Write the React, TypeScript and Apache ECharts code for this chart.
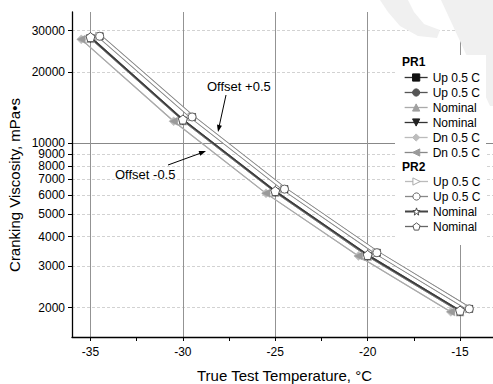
import React, { useEffect, useRef } from "react";
import * as echarts from "echarts";

const FONT = "'Liberation Sans', Arial, Helvetica, sans-serif";

// ---- data ----
const nominalTemps = [-35, -30, -25, -20, -15];
const upTemps = [-34.5, -29.5, -24.5, -19.5, -14.5];
const dnTemps = [-35.5, -30.5, -25.5, -20.5, -15.5];

const pr1Up = [28400, 12900, 6370, 3420, 1975];
const pr1Nominal = [27740, 12400, 6160, 3296, 1914];
const pr1Dn = [27550, 12370, 6110, 3313, 1918];
const pr2Up = [28400, 12900, 6370, 3420, 1975];
const pr2Nominal = [28150, 12580, 6250, 3345, 1942];

const yTicks = [2000, 3000, 4000, 5000, 6000, 7000, 8000, 9000, 10000, 20000, 30000];
const yRange = [1500, 36000];
const yReference = [10000];
const xTicks = [-35, -30, -25, -20, -15];
const xMinorTicks = [-32.5, -27.5, -22.5, -17.5];
const xRange = [-36, -13];

const groupTitles = ["PR1", "PR2"];
const seriesLabels = [
  "Up 0.5 C", "Up 0.5 C", "Nominal", "Nominal", "Dn 0.5 C", "Dn 0.5 C",
  "Up 0.5 C", "Up 0.5 C", "Nominal", "Nominal",
];
const seriesGroup = [0, 0, 0, 0, 0, 0, 1, 1, 1, 1];
const seriesTemps = [upTemps, upTemps, nominalTemps, nominalTemps, dnTemps, dnTemps, upTemps, upTemps, nominalTemps, nominalTemps];
const seriesValues = [pr1Up, pr1Up, pr1Nominal, pr1Nominal, pr1Dn, pr1Dn, pr2Up, pr2Up, pr2Nominal, pr2Nominal];

// ---- styles ----
const STAR = "path://M0,-1L0.235,-0.324L0.951,-0.309L0.38,0.124L0.588,0.809L0,0.4L-0.588,0.809L-0.38,0.124L-0.951,-0.309L-0.235,-0.324Z";
const PENTAGON = "path://M0,-1L0.951,-0.309L0.588,0.809L-0.588,0.809L-0.951,-0.309Z";

const seriesStyles = [
  { symbol: "rect", size: 7, rotate: 0, fill: "#111", border: "#111", bw: 0.5, line: "#8e8e8e", width: 4.2, legendLine: "#333", legendWidth: 1.3 },
  { symbol: "circle", size: 7, rotate: 0, fill: "#555", border: "#555", bw: 0.5, line: "#8e8e8e", width: 4.2, legendLine: "#555", legendWidth: 1.3 },
  { symbol: "triangle", size: 8, rotate: 0, fill: "#a0a0a0", border: "#a0a0a0", bw: 0.5, line: "#a8a8a8", width: 1, legendLine: "#aaa", legendWidth: 1.3 },
  { symbol: "triangle", size: 8, rotate: 180, fill: "#222", border: "#222", bw: 0.5, line: "#777", width: 1, legendLine: "#333", legendWidth: 1.3 },
  { symbol: "diamond", size: 9, rotate: 0, fill: "#bdbdbd", border: "#bdbdbd", bw: 0.5, line: "#b5b5b5", width: 1.2, legendLine: "#bbb", legendWidth: 1.3 },
  { symbol: "triangle", size: 8, rotate: 90, fill: "#9a9a9a", border: "#9a9a9a", bw: 0.5, line: "#aaa", width: 1.1, legendLine: "#888", legendWidth: 1.3 },
  { symbol: "triangle", size: 8, rotate: -90, fill: "#fff", border: "#aaa", bw: 1, line: "#fff", width: 2.2, legendLine: "#bbb", legendWidth: 1.3 },
  { symbol: "circle", size: 8, rotate: 0, fill: "#fff", border: "#666", bw: 1, line: "#fff", width: 2.2, legendLine: "#888", legendWidth: 1.3 },
  { symbol: STAR, size: 9, rotate: 0, fill: "#fff", border: "#444", bw: 1, line: "#444", width: 1.5, legendLine: "#444", legendWidth: 2 },
  { symbol: PENTAGON, size: 9, rotate: 0, fill: "#fff", border: "#555", bw: 1, line: "#3c3c3c", width: 1.5, legendLine: "#666", legendWidth: 1.3 },
];

const ids = seriesLabels.map((_, i) => "s" + i);
const log = (v: number) => Math.log10(v);

function buildOption(): any {
  const series = ids.map((id, i) => {
    const st = seriesStyles[i];
    return {
      type: "line",
      name: id,
      xAxisIndex: 0,
      yAxisIndex: 0,
      data: seriesTemps[i].map((t, k) => [t, log(seriesValues[i][k])]),
      symbol: st.symbol,
      symbolSize: st.size,
      symbolRotate: st.rotate,
      showSymbol: true,
      showAllSymbol: true,
      lineStyle: { color: st.line, width: st.width },
      itemStyle: { color: st.fill, borderColor: st.border, borderWidth: st.bw },
      emphasis: { disabled: true },
      silent: true,
      z: 2,
    };
  });

  const legendFor = (g: number, top: number) => ({
    data: ids
      .map((id, i) => ({ id, i }))
      .filter((d) => seriesGroup[d.i] === g)
      .map((d) => ({
        name: d.id,
        lineStyle: { color: seriesStyles[d.i].legendLine, width: seriesStyles[d.i].legendWidth },
      })),
    orient: "vertical",
    left: 404,
    top,
    itemWidth: 23,
    itemHeight: 9,
    itemGap: 0,
    padding: 0,
    selectedMode: false,
    formatter: (name: string) => seriesLabels[ids.indexOf(name)],
    textStyle: { fontSize: 12, lineHeight: 15, color: "#000", fontFamily: FONT },
    itemStyle: { borderWidth: 1 },
  });

  const yTickLogs = yTicks.map(log);
  const yRefLogs = yReference.map(log);

  return {
    animation: false,
    backgroundColor: "#fff",
    textStyle: { fontFamily: FONT },
    grid: { left: 72, top: 12, right: -4, bottom: 47, containLabel: false, outerBoundsMode: "none" },
    xAxis: [
      {
        type: "value",
        min: xRange[0],
        max: xRange[1],
        position: "bottom",
        axisLine: { show: true, onZero: false, lineStyle: { color: "#000", width: 1.3 } },
        axisTick: { show: true, length: 4, customValues: xTicks, lineStyle: { color: "#000" } },
        axisLabel: { customValues: xTicks, margin: 9, fontSize: 12, color: "#000", fontFamily: FONT },
        splitLine: { show: true, lineStyle: { color: "#939393", width: 1 } },
        name: "True Test Temperature, °C",
        nameLocation: "middle",
        nameGap: 31,
        nameTextStyle: { fontSize: 15, color: "#000", fontFamily: FONT },
      },
      {
        type: "value",
        min: xRange[0],
        max: xRange[1],
        position: "bottom",
        axisLine: { show: false, onZero: false },
        axisTick: { show: true, length: 4, customValues: xMinorTicks, lineStyle: { color: "#000" } },
        axisLabel: { show: false, customValues: xMinorTicks },
        splitLine: { show: false },
      },
    ],
    yAxis: [
      {
        type: "value",
        min: log(yRange[0]),
        max: log(yRange[1]),
        axisLine: { show: true, onZero: false, lineStyle: { color: "#000", width: 1.3 } },
        axisTick: { show: true, length: 4, customValues: yTickLogs, lineStyle: { color: "#000" } },
        axisLabel: {
          customValues: yTickLogs,
          margin: 7,
          fontSize: 12,
          color: "#000",
          fontFamily: FONT,
          formatter: (v: number) => String(Math.round(Math.pow(10, v))),
        },
        splitLine: { show: true, lineStyle: { color: "#d2d2d2", width: 1, type: [3, 2] } },
      },
      {
        type: "value",
        position: "right",
        min: log(yRange[0]),
        max: log(yRange[1]),
        axisLine: { show: false },
        axisTick: { show: false, customValues: yRefLogs },
        axisLabel: { show: false, customValues: yRefLogs },
        splitLine: { show: true, lineStyle: { color: "#888", width: 1 } },
      },
    ],
    legend: [legendFor(0, 70), legendFor(1, 174)],
    series,
    graphic: [
      // watermark fragments
      { type: "polygon", z: 1, silent: true, shape: { points: [[441, 0], [493, 0], [493, 106], [490, 106]] }, style: { fill: "#f0f0f0" } },
      { type: "polygon", z: 1, silent: true, shape: { points: [[380, 0], [408, 0], [414, 12], [424, 24], [440, 30], [437, 38], [418, 36], [400, 26], [388, 12]] }, style: { fill: "#f0f0f0" } },
      // legend backdrop
      { type: "rect", z: 1, silent: true, shape: { x: 395, y: 55, width: 91, height: 190 }, style: { fill: "#fff" } },
      // legend group titles
      { type: "text", z: 5, silent: true, x: 402, y: 62, style: { text: groupTitles[0], fill: "#000", font: "bold 12px " + FONT, verticalAlign: "middle" } },
      { type: "text", z: 5, silent: true, x: 402, y: 167, style: { text: groupTitles[1], fill: "#000", font: "bold 12px " + FONT, verticalAlign: "middle" } },
      // y-axis title
      { type: "text", z: 5, silent: true, x: 14, y: 185, rotation: Math.PI / 2, style: { text: "Cranking Viscosity, mPa•s", font: "15px " + FONT, fill: "#000", align: "center", verticalAlign: "middle" } },
      // annotations
      { type: "text", z: 5, silent: true, x: 207, y: 86, style: { text: "Offset +0.5", font: "13px " + FONT, fill: "#000", verticalAlign: "middle" } },
      { type: "line", z: 5, silent: true, shape: { x1: 226, y1: 95, x2: 219, y2: 127 }, style: { stroke: "#000", lineWidth: 1 } },
      { type: "polygon", z: 5, silent: true, shape: { points: [[218, 132], [221.9, 125.7], [217.0, 124.6]] }, style: { fill: "#000" } },
      { type: "text", z: 5, silent: true, x: 115, y: 174, style: { text: "Offset -0.5", font: "13px " + FONT, fill: "#000", verticalAlign: "middle" } },
      { type: "line", z: 5, silent: true, shape: { x1: 168, y1: 165, x2: 201, y2: 153 }, style: { stroke: "#000", lineWidth: 1 } },
      { type: "polygon", z: 5, silent: true, shape: { points: [[206, 151], [200.3, 155.8], [198.6, 151.1]] }, style: { fill: "#000" } },
    ],
  };
}

export default function App() {
  const ref = useRef<HTMLDivElement>(null);
  useEffect(() => {
    if (!ref.current) return;
    const chart = echarts.init(ref.current, undefined, { renderer: "svg" });
    chart.setOption(buildOption());
    return () => chart.dispose();
  }, []);
  return (
    <div
      ref={ref}
      style={{ position: "fixed", left: 0, top: 0, width: 493, height: 384, background: "#fff" }}
    />
  );
}
